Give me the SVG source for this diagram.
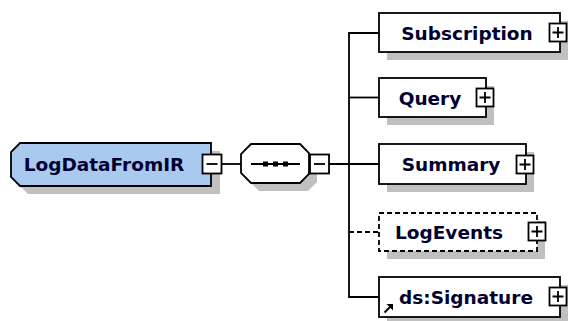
<svg xmlns="http://www.w3.org/2000/svg" width="569" height="321" viewBox="0 0 569 321">
<style>
.shadow{fill:#c0c0c0;stroke:none}
.box{fill:#ffffff;stroke:#000000;stroke-width:1.8}
.dbox{fill:#ffffff;stroke:#000000;stroke-width:1.8;stroke-dasharray:5,3}
.root{fill:#a9c9ef;stroke:#000000;stroke-width:1.8}
.btn{fill:#ffffff;stroke:#000000;stroke-width:1.8}
.sign{stroke:#000000;stroke-width:1.8;fill:none}
.conn{stroke:#000000;stroke-width:1.8;fill:none}
.dconn{stroke:#000000;stroke-width:1.8;fill:none;stroke-dasharray:5,3}
.lbl{font-family:"DejaVu Sans","Liberation Sans",sans-serif;font-weight:bold;font-size:18.5px;fill:#000030;text-anchor:middle}
</style>
<g id="connectors">
<line class="conn" x1="221" y1="164" x2="241" y2="164"/>
<line class="conn" x1="329" y1="164" x2="379" y2="164"/>
<path class="conn" d="M379,33 H349 V297 H379"/>
<line class="conn" x1="349" y1="97.5" x2="379" y2="97.5"/>
<line class="dconn" x1="349" y1="232" x2="379" y2="232"/>
</g>
<g id="LogDataFromIR">
<path class="shadow" d="M28,151 H220 V194 H28 L19,185 V160 Z"/>
<path class="root" d="M20,143 H211 V186 H20 L11,177 V152 Z"/>
<text class="lbl" x="104" y="171">LogDataFromIR</text>
<rect class="btn" x="202.5" y="154.5" width="19" height="19"/>
<line class="sign" x1="206.5" y1="164" x2="217.5" y2="164"/>
</g>
<g id="sequence">
<path class="shadow" d="M259,152 H308 L317,161 V182 L308,191 H259 L249,181 V162 Z"/>
<path class="box" d="M251,144 H300 L309,153 V174 L300,183 H251 L241,173 V154 Z"/>
<line class="conn" x1="251" y1="164" x2="300" y2="164"/>
<rect x="263" y="161.5" width="5" height="5" fill="#000"/>
<rect x="273" y="161.5" width="5" height="5" fill="#000"/>
<rect x="283" y="161.5" width="5" height="5" fill="#000"/>
<rect class="btn" x="310" y="154.5" width="19" height="19"/>
<line class="sign" x1="314" y1="164" x2="325" y2="164"/>
</g>
<g id="Subscription">
<rect class="shadow" x="387" y="21" width="181" height="39"/>
<rect class="box" x="379" y="13" width="181" height="39"/>
<text class="lbl" x="467" y="39.5">Subscription</text>
<rect class="btn" x="549.5" y="23.5" width="17" height="18"/>
<path class="sign" d="M552.5,32.5 H563.5 M558,27 V38"/>
</g>
<g id="Query">
<rect class="shadow" x="387" y="86" width="107" height="39"/>
<rect class="box" x="379" y="78" width="107" height="39"/>
<text class="lbl" x="430" y="104.5">Query</text>
<rect class="btn" x="476.5" y="88.5" width="17" height="18"/>
<path class="sign" d="M479.5,97.5 H490.5 M485,92 V103"/>
</g>
<g id="Summary">
<rect class="shadow" x="387" y="152" width="147" height="40"/>
<rect class="box" x="379" y="144" width="147" height="40"/>
<text class="lbl" x="451" y="171">Summary</text>
<rect class="btn" x="516.5" y="155.5" width="17" height="18"/>
<path class="sign" d="M519.5,164.5 H530.5 M525,159 V170"/>
</g>
<g id="LogEvents">
<rect class="shadow" x="387" y="221" width="158" height="38"/>
<rect class="dbox" x="379" y="213" width="158" height="38"/>
<text class="lbl" x="449" y="239">LogEvents</text>
<rect class="btn" x="528.5" y="222.5" width="17" height="18"/>
<path class="sign" d="M531.5,231.5 H542.5 M537,226 V237"/>
</g>
<g id="ds-Signature">
<rect class="shadow" x="387" y="285" width="181" height="40"/>
<rect class="box" x="379" y="277" width="181" height="40"/>
<text class="lbl" x="466" y="304">ds:Signature</text>
<rect class="btn" x="549.5" y="287.5" width="17" height="18"/>
<path class="sign" d="M552.5,296.5 H563.5 M558,291 V302"/>
<path d="M384.5,312.5 L390,307" stroke="#000" stroke-width="2"/>
<path d="M386.5,304 H393 V310.5 Z" fill="#000"/>
</g>
</svg>
